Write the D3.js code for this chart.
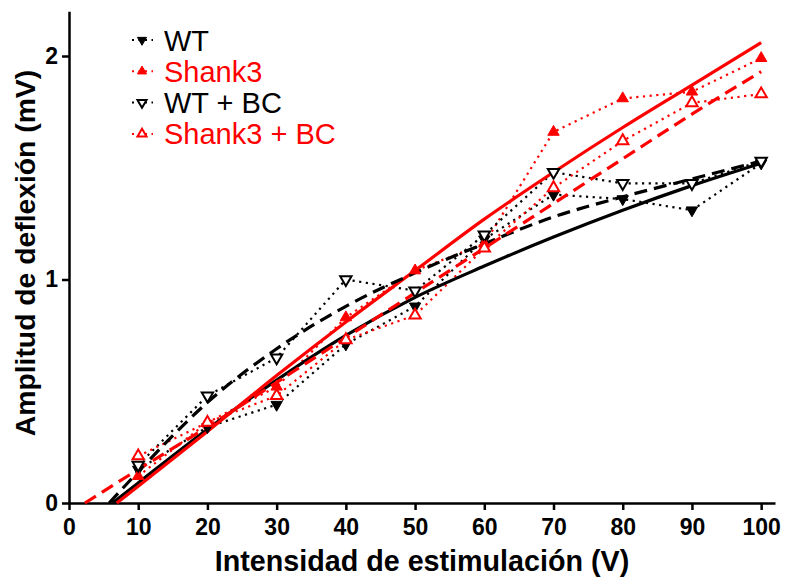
<!DOCTYPE html>
<html>
<head>
<meta charset="utf-8">
<script src="https://cdn.jsdelivr.net/npm/d3@7"></script>
<style>
  body { margin: 0; background: #fff; }
  svg { display: block; font-family: "Liberation Sans", Arial, sans-serif; }
</style>
</head>
<body>
<div id="chart"></div>
<script>
var width = 787,
    height = 581

// stimulation intensities (V)
const intensity = [10, 20, 30, 40, 50, 60, 70, 80, 90, 100]

// mean amplitudes (mV)
const wt        = [0.15, 0.34, 0.44, 0.71, 0.88, 1.18, 1.38, 1.36, 1.31, 1.52]
const shank3    = [0.12, 0.36, 0.52, 0.83, 1.04, 1.16, 1.66, 1.81, 1.84, 1.99]
const wtBC      = [0.17, 0.48, 0.65, 1.00, 0.95, 1.20, 1.48, 1.43, 1.43, 1.53]
const shank3BC  = [0.21, 0.36, 0.48, 0.73, 0.84, 1.14, 1.41, 1.62, 1.79, 1.83]

// fitted curves [V, mV]
const fitWT       = [[6.3, 0], [10, 0.09], [20, 0.33], [30, 0.55], [40, 0.75], [50, 0.92], [60, 1.06], [70, 1.19], [80, 1.31], [90, 1.42], [100, 1.52]]
const fitShank3   = [[6.9, 0], [10, 0.075], [20, 0.32], [30, 0.57], [40, 0.81], [50, 1.04], [60, 1.27], [70, 1.48], [80, 1.68], [90, 1.87], [100, 2.06]]
const fitWTBC     = [[5.8, 0], [10, 0.14], [20, 0.45], [30, 0.69], [40, 0.88], [50, 1.03], [60, 1.16], [70, 1.28], [80, 1.37], [90, 1.45], [100, 1.53]]
const fitShank3BC = [[2.3, 0], [10, 0.15], [20, 0.34], [30, 0.54], [40, 0.74], [50, 0.94], [60, 1.14], [70, 1.34], [80, 1.54], [90, 1.74], [100, 1.93]]

const xTicks = [0, 10, 20, 30, 40, 50, 60, 70, 80, 90, 100]
const yTicks = [0, 1, 2]

const series = [
  { name: 'WT',          values: wt,       fit: fitWT,       color: '#000', filled: true,  down: true,  dash: null },
  { name: 'Shank3',      values: shank3,   fit: fitShank3,   color: '#f00', filled: true,  down: false, dash: null },
  { name: 'WT + BC',     values: wtBC,     fit: fitWTBC,     color: '#000', filled: false, down: true,  dash: '13,7' },
  { name: 'Shank3 + BC', values: shank3BC, fit: fitShank3BC, color: '#f00', filled: false, down: false, dash: '13,7' }
]

var svg = d3.select('#chart')
  .append('svg')
  .attr('width', width)
  .attr('height', height)

const x = d3.scaleLinear().domain([0, 102]).range([69, 775])
const y = d3.scaleLinear().domain([0, 2.2]).range([503, 11.3])

// axes
svg.append('g')
  .attr('transform', 'translate(0,' + y(0) + ')')
  .call(d3.axisBottom(x).tickValues(xTicks).tickFormat(d3.format('d'))
    .tickSize(7).tickPadding(9).tickSizeOuter(0))
svg.append('g')
  .attr('transform', 'translate(' + x(0) + ',0)')
  .call(d3.axisLeft(y).tickValues(yTicks).tickFormat(d3.format('d'))
    .tickSize(7).tickPadding(4).tickSizeOuter(0))

svg.selectAll('.domain, .tick line')
  .attr('stroke', '#000')
  .attr('stroke-width', 2.5)
svg.selectAll('.tick text')
  .attr('font-family', '"Liberation Sans", Arial, sans-serif')
  .attr('font-size', 23)
  .attr('font-weight', 'bold')
  .attr('fill', '#000')

svg.append('text')
  .attr('x', 422)
  .attr('y', 571)
  .attr('text-anchor', 'middle')
  .attr('font-size', 28.7)
  .attr('font-weight', 'bold')
  .text('Intensidad de estimulación (V)')

svg.append('text')
  .attr('transform', 'translate(35,253)rotate(-90)')
  .attr('text-anchor', 'middle')
  .attr('font-size', 28.3)
  .attr('font-weight', 'bold')
  .text('Amplitud de deflexión (mV)')

const dataLine = d3.line()
  .x((d, i) => x(intensity[i]))
  .y(d => y(d))

const fitLine = d3.line()
  .x(d => x(d[0]))
  .y(d => y(d[1]))
  .curve(d3.curveMonotoneX)

const tri = d3.symbol().type(d3.symbolTriangle)

// dotted lines joining the means
series.forEach(function (s) {
  svg.append('path')
    .attr('d', dataLine(s.values))
    .attr('fill', 'none')
    .attr('stroke', s.color)
    .attr('stroke-width', 2.2)
    .attr('stroke-dasharray', '2.2,4.5')
})

// fits
series.forEach(function (s) {
  svg.append('path')
    .attr('d', fitLine(s.fit))
    .attr('fill', 'none')
    .attr('stroke', s.color)
    .attr('stroke-width', 3.2)
    .attr('stroke-dasharray', s.dash)
})

function drawMarker(g, s, cx, cy, size) {
  g.append('path')
    .attr('d', tri.size(size)())
    .attr('transform', 'translate(' + cx + ',' + cy + ')' + (s.down ? 'rotate(180)' : ''))
    .attr('fill', s.filled ? s.color : '#fff')
    .attr('stroke', s.color)
    .attr('stroke-width', s.filled ? 1 : 2)
}

series.forEach(function (s) {
  const g = svg.append('g')
  s.values.forEach(function (v, i) {
    drawMarker(g, s, x(intensity[i]), y(v), 56)
  })
})

// legend
const legend = svg.append('g')
series.forEach(function (s, i) {
  const cy = 40 + i * 31.3
  legend.append('line')
    .attr('x1', 132).attr('x2', 153)
    .attr('y1', cy).attr('y2', cy)
    .attr('stroke', s.color)
    .attr('stroke-width', 2)
    .attr('stroke-dasharray', '2,4.5')
  drawMarker(legend, s, 142, cy, 36)
  legend.append('text')
    .attr('x', 164)
    .attr('y', cy + 10.5)
    .attr('font-size', 29)
    .attr('fill', s.color)
    .text(s.name)
})
</script>
</body>
</html>
